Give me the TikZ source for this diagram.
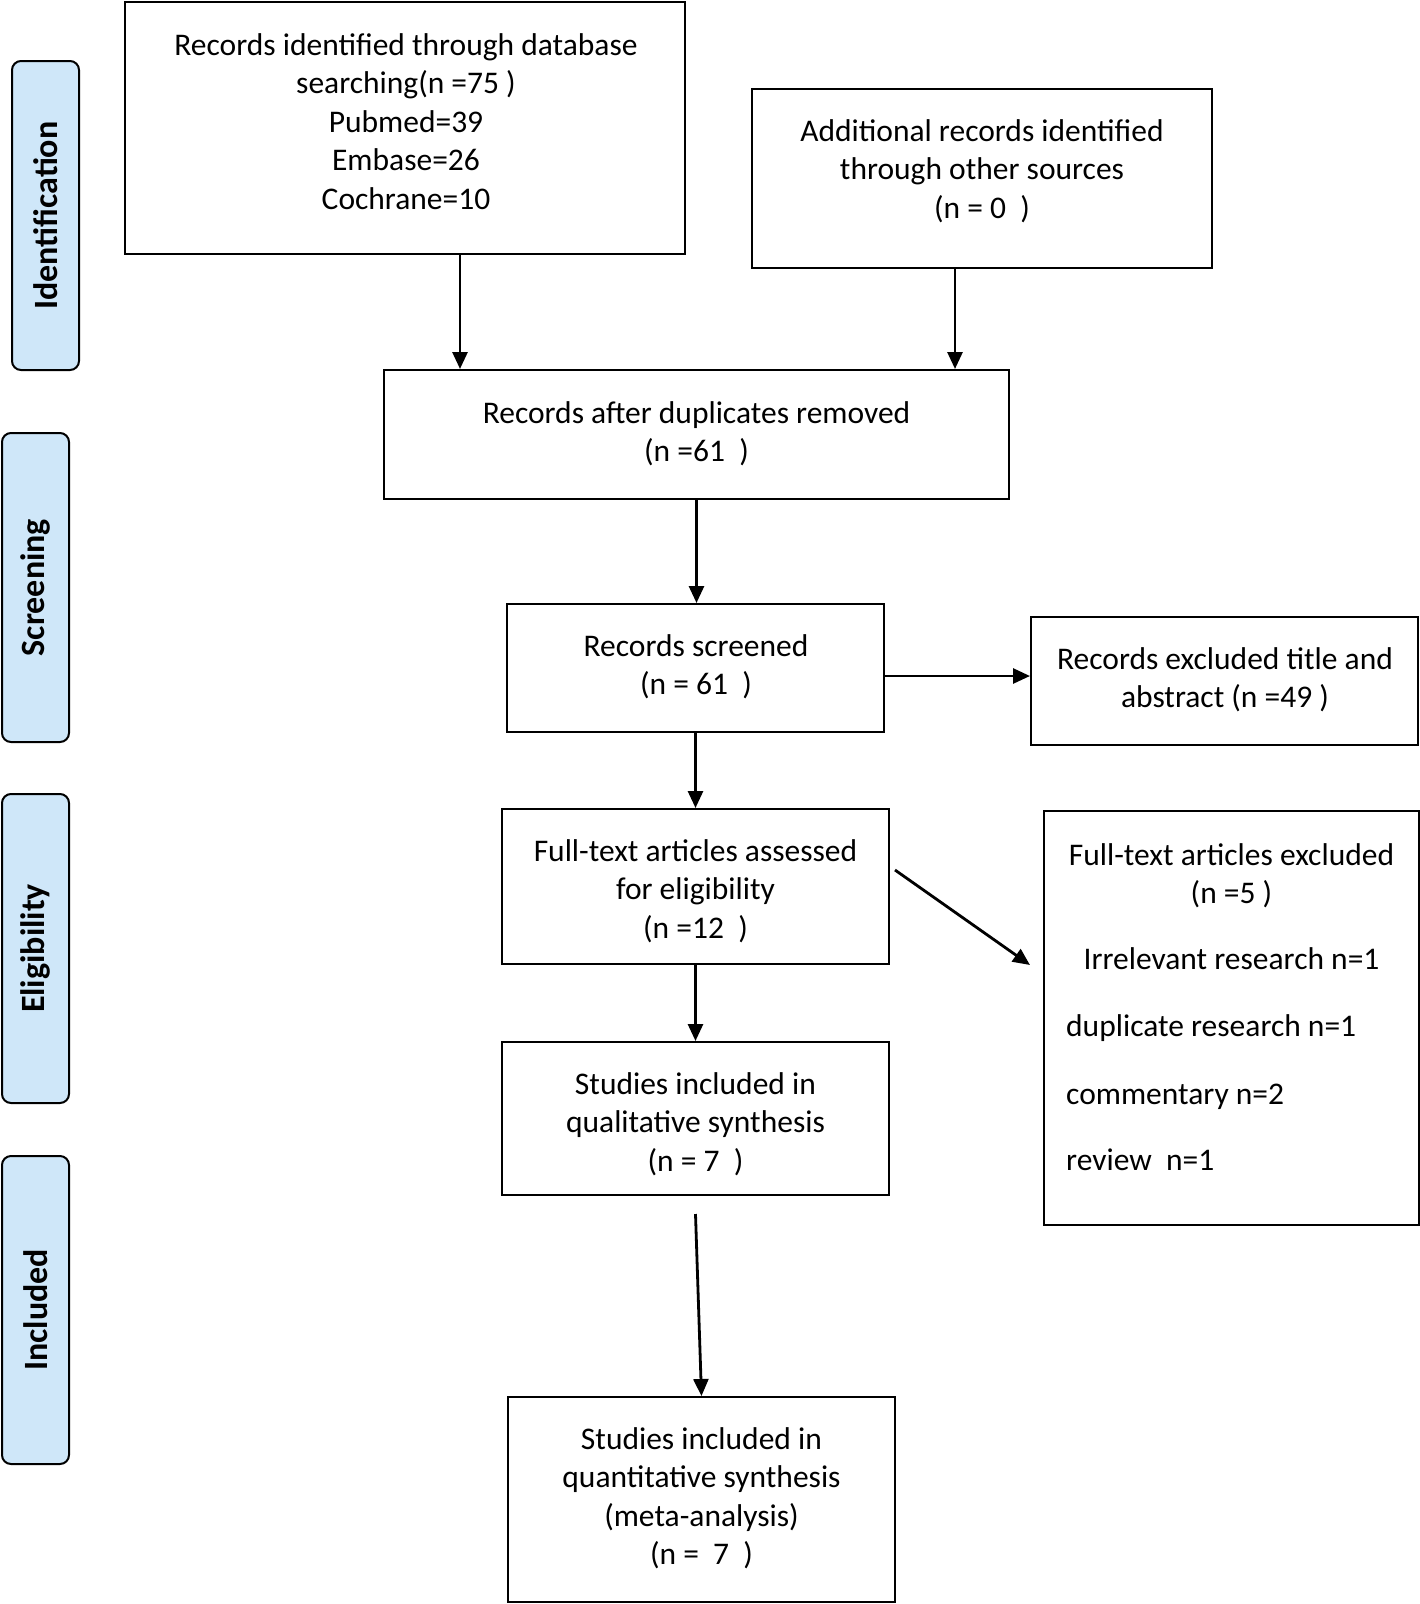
\documentclass[tikz,border=0pt]{standalone}
\usepackage{fontspec}
\setmainfont{Carlito}
\usetikzlibrary{arrows.meta}
\definecolor{sidefill}{RGB}{207,231,249}
\tikzset{
  box/.style={draw=black, line width=2pt, fill=white, inner sep=0pt},
  side/.style={draw=black, line width=2pt, fill=sidefill, rounded corners=9pt, inner sep=0pt,
    rotate=90, font=\fontsize{34}{40}\selectfont\bfseries},
  txt/.style={inner sep=0pt, align=center, font=\fontsize{31.5}{38.5}\selectfont},
  arr/.style={line width=2.8pt, -{Triangle[length=17pt,width=15pt]}}
}
\begin{document}
\begin{tikzpicture}[x=1pt,y=-1pt]
\useasboundingbox (0,0) rectangle (1420,1604);
% side labels
\node[side, minimum width=309pt, minimum height=67pt] (sid) at (45.5,215.5) {Identification};
\node[side, minimum width=309pt, minimum height=67pt] (sscr) at (35.5,587.5) {Screening};
\node[side, minimum width=309pt, minimum height=67pt] (selig) at (35.5,948.5) {Eligibility};
\node[side, minimum width=308pt, minimum height=67pt] (sinc) at (35.5,1310) {Included};
% boxes
\node[box, minimum width=560pt, minimum height=252pt] (b1) at (405,128) {};
\node[box, minimum width=460pt, minimum height=179pt] (b2) at (982,178.5) {};
\node[box, minimum width=625pt, minimum height=129pt] (b3) at (696.5,434.5) {};
\node[box, minimum width=377pt, minimum height=128pt] (b4) at (695.5,668) {};
\node[box, minimum width=387pt, minimum height=128pt] (b5) at (1224.5,681) {};
\node[box, minimum width=387pt, minimum height=155pt] (b6) at (695.5,886.5) {};
\node[box, minimum width=375pt, minimum height=414pt] (b7) at (1231.5,1018) {};
\node[box, minimum width=387pt, minimum height=153pt] (b8) at (695.5,1118.5) {};
\node[box, minimum width=387pt, minimum height=205pt] (b9) at (701.5,1499.5) {};
% texts
\node[txt] (t1) at ([xshift=1pt,yshift=6.5pt]b1.center)
  {Records identified through database\\searching(n =75 )\\Pubmed=39\\Embase=26\\Cochrane=10};
\node[txt] (t2) at ([yshift=7.5pt]b2.center)
  {Additional records identified\\through other sources\\(n = 0\ \ )};
\node[txt] (t3) at ([yshift=1pt]b3.center) {Records after duplicates removed\\(n =61\ \ )};
\node[txt] (t4) at ([xshift=0.5pt,yshift=1.5pt]b4.center) {Records screened\\(n = 61\ \ )};
\node[txt] (t5) at ([xshift=0.5pt,yshift=1.5pt]b5.center) {Records excluded title and\\abstract (n =49 )};
\node[txt] (t6) at ([yshift=-4.5pt]b6.center) {Full-text articles assessed\\for eligibility\\(n =12\ \ )};
\node[txt] (t8) at ([yshift=-5.5pt]b8.center) {Studies included in\\qualitative synthesis\\(n = 7\ \ )};
\node[txt] (t9) at ([yshift=1.5pt]b9.center)
  {Studies included in\\quantitative synthesis\\(meta-analysis)\\(n =\ \ 7\ \ )};
\node[txt] (t7a) at (1231.5,875.5) {Full-text articles excluded\\(n =5 )};
\node[txt, anchor=base] (t7b) at (1231.5,969) {Irrelevant research n=1};
\node[txt, anchor=base west] (t7c) at (1066,1036) {duplicate research n=1};
\node[txt, anchor=base west] (t7d) at (1066,1104) {commentary n=2};
\node[txt, anchor=base west] (t7e) at (1066,1170) {review\ \ n=1};
% connectors
\draw[arr] ([xshift=55pt]b1.south) coordinate (a1) -- (a1 |- b3.north);
\draw[arr] ([xshift=-27pt]b2.south) coordinate (a2) -- (a2 |- b3.north);
\draw[arr] (b3.south) -- (b3.south |- b4.north);
\draw[arr] ([yshift=-8pt]b4.east) coordinate (a4) -- (a4 -| b5.west);
\draw[arr] (b4.south) -- (b4.south |- b6.north);
\coordinate (d1) at ([xshift=5pt,yshift=16.5pt]b6.east);
\coordinate (d2) at ([xshift=-13pt,yshift=53pt]b7.west);
\draw[arr] (d1) -- (d2);
\draw[arr] (b6.south) -- (b6.south |- b8.north);
\coordinate (e1) at ([yshift=-18pt]b8.south);
\draw[arr] (e1) -- (b9.north);
\end{tikzpicture}
\end{document}
